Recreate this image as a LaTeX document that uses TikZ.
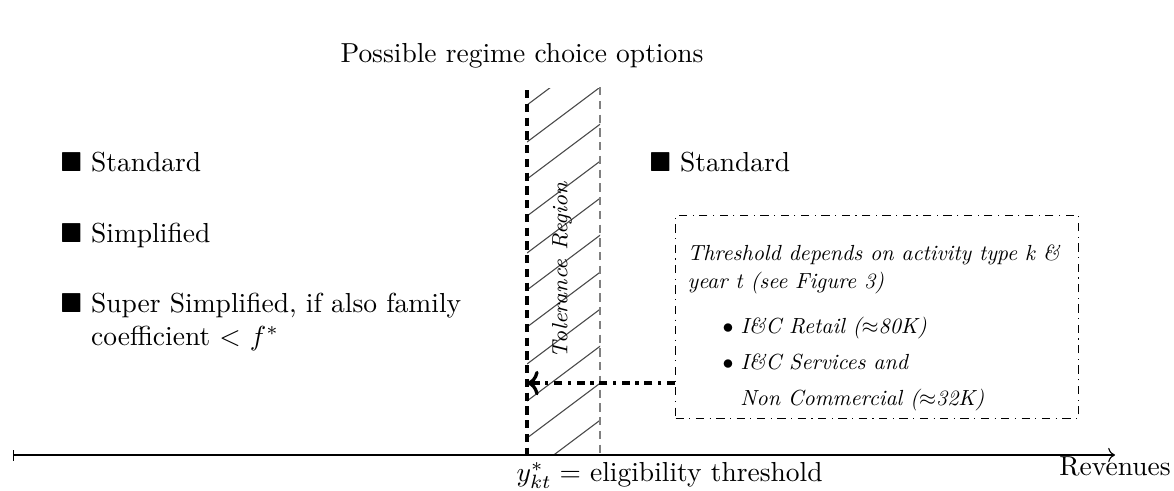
\documentclass[tikz,border=0pt]{standalone}
\usepackage{amssymb}
\usepackage{graphicx}
\usetikzlibrary{arrows.meta,calc}
\newcommand{\boxline}[1]{\scalebox{0.795}{\normalsize\itshape #1}}
\begin{document}
\begin{tikzpicture}[x=0.3636pt,y=-0.3636pt,
  lbl/.style={inner sep=0pt},
  thrline/.style={very thick, densely dashed},
  tolline/.style={gray, densely dashed},
  hatchline/.style={black!70, line width=0.4pt},
  axisline/.style={line width=0.4pt, {Bar[width=4pt]}-To},
  infobox/.style={draw, dash dot, line width=0.4pt, inner sep=0pt, anchor=north west},
  ptr/.style={very thick, dash dot, -To}]
\useasboundingbox (0,0) rectangle (1174,490);

% title
\node[lbl, anchor=base] (title) at (522,62) {Possible regime choice options};

% left options
\node[lbl, anchor=base west] (lstd) at (60,171) {$\blacksquare$ Standard};
\node[lbl, anchor=base west] (lsimp) at (60,242) {$\blacksquare$ Simplified};
\node[lbl, anchor=base west] (lsup) at (60,312) {\begin{tabular}[t]{@{}l@{}}$\blacksquare$ Super Simplified, if also family\\\phantom{$\blacksquare$ }coefficient $<$ $f^*$\end{tabular}};

% right option
\node[lbl, anchor=base west] (rstd) at (649,171) {$\blacksquare$ Standard};

% threshold and tolerance lines
\coordinate (thrT) at (527,90);
\coordinate (thrB) at (527,455);
\coordinate (tolT) at (600,87);
\coordinate (tolB) at (600,455);

\begin{scope}
  \clip (527,88) rectangle (600,455);
  \foreach \k in {-2,...,10}
    \draw[hatchline] (527,105+37*\k) -- ++(110,-82.5);
\end{scope}

\draw[tolline] (tolT) -- (tolB);
\draw[thrline] (thrT) -- (thrB);

\node[lbl, rotate=90, font=\footnotesize\itshape] (tol) at (562,270) {Tolerance Region};

% axis
\coordinate (axS) at (13,455);
\coordinate (axE) at (1115,455);
\draw[axisline] (axS) -- (axE);
\node[lbl, anchor=base] (rev) at (1115,475) {Revenues};
\node[lbl, anchor=base west] (ylab) at (516,481) {$y^*_{kt} =$ eligibility threshold};

% info box
\node[infobox] (box) at (675,215) {\begin{minipage}[c][73.8pt][t]{146.5pt}\fontsize{8}{9.5}\selectfont\raggedright
\vspace*{10.8pt}%
\mbox{\hspace*{4.4pt}\boxline{Threshold depends on activity type k \&}}\\[0.5pt]
\mbox{\hspace*{4.4pt}\boxline{year t (see Figure 3)}}\\[7pt]
\mbox{\hspace*{17.1pt}\boxline{\makebox[8.2pt][l]{$\bullet$}I\&C Retail ($\approx$80K)}}\\[3.5pt]
\mbox{\hspace*{17.1pt}\boxline{\makebox[8.2pt][l]{$\bullet$}I\&C Services and}}\\[3.5pt]
\mbox{\hspace*{23.6pt}\boxline{Non Commercial ($\approx$32K)}}
\end{minipage}};

% pointer arrow
\draw[ptr] ([yshift=13.1pt]box.south west) -- ([yshift=13.1pt]box.south west -| thrB);
\end{tikzpicture}
\end{document}
